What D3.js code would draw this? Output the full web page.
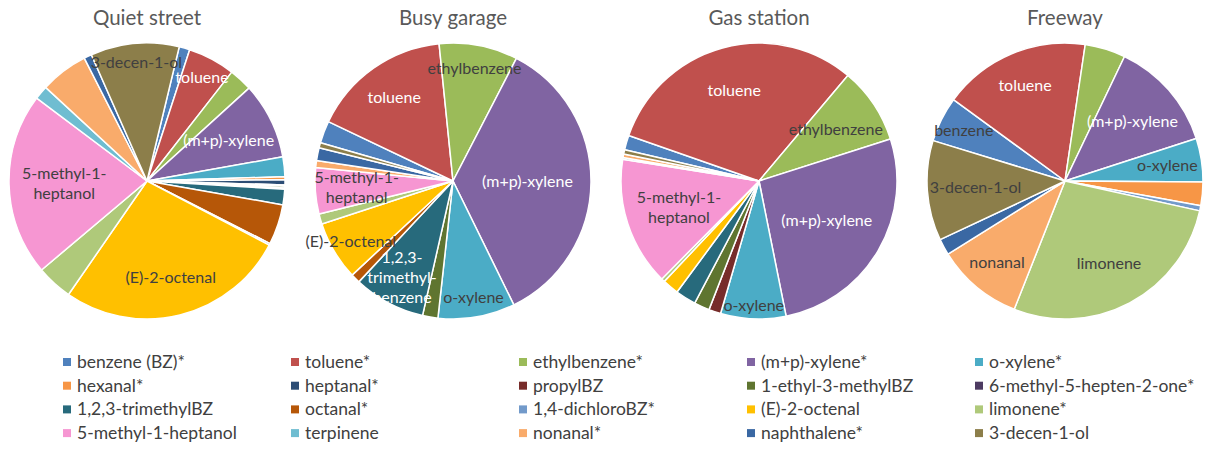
<!DOCTYPE html>
<html>
<head>
<meta charset="utf-8">
<script src="https://cdnjs.cloudflare.com/ajax/libs/d3/7.8.5/d3.min.js"></script>
<style>
  body { margin: 0; background: #fff; }
  svg text { font-family: Lato, "Open Sans", sans-serif; }
</style>
</head>
<body>
<div id="chart"></div>
<script>
//compounds in the same order as the excel series (pies go clockwise in this order)
var compounds = ["benzene", "toluene", "ethylbenzene", "(m+p)-xylene", "o-xylene",
  "hexanal", "heptanal", "propylBZ", "1-ethyl-3-methylBZ", "6-methyl-5-hepten-2-one",
  "1,2,3-trimethylBZ", "octanal", "1,4-dichloroBZ", "(E)-2-octenal", "limonene",
  "5-methyl-1-heptanol", "terpinene", "nonanal", "naphthalene", "3-decen-1-ol"];

//what the legend says for each one
var legendNames = ["benzene (BZ)*", "toluene*", "ethylbenzene*", "(m+p)-xylene*", "o-xylene*",
  "hexanal*", "heptanal*", "propylBZ", "1-ethyl-3-methylBZ", "6-methyl-5-hepten-2-one*",
  "1,2,3-trimethylBZ", "octanal*", "1,4-dichloroBZ*", "(E)-2-octenal", "limonene*",
  "5-methyl-1-heptanol", "terpinene", "nonanal*", "naphthalene*", "3-decen-1-ol"];

var sites = ["Quiet street", "Busy garage", "Gas station", "Freeway"];

//share of every compound at each site (%)
var quietStreet = [1.25, 5.5, 2.7, 8.9, 2.3, 0.35, 0.6, 0.15, 0.2, 0.15,
  1.8, 4.7, 0.2, 26.8, 4.2, 21.3, 1.6, 5.6, 0.9, 10.3];
var busyGarage = [2.6, 16.3, 9.2, 35.1, 9.0, 0, 0, 0, 1.8, 0,
  8.4, 1.1, 0, 6.9, 1.2, 5.4, 0, 0.8, 1.5, 0.6];
var gasStation = [1.7, 30.6, 8.9, 26.6, 7.6, 0, 0, 1.4, 1.8, 0,
  2.4, 0, 0, 1.9, 0.4, 15.0, 0.2, 0.4, 0, 0.5];
var freeway = [5.3, 17.3, 4.75, 12.9, 5.1, 2.75, 0, 0, 0, 0,
  0, 0, 0.6, 0, 27.5, 0, 0, 10.1, 1.9, 11.7];

var siteValues = [quietStreet, busyGarage, gasStation, freeway];

//the text written inside the slices
var sliceLabels = {
  "benzene": ["benzene"],
  "toluene": ["toluene"],
  "ethylbenzene": ["ethylbenzene"],
  "(m+p)-xylene": ["(m+p)-xylene"],
  "o-xylene": ["o-xylene"],
  "1,2,3-trimethylBZ": ["1,2,3-", "trimethyl-", "benzene"],
  "(E)-2-octenal": ["(E)-2-octenal"],
  "limonene": ["limonene"],
  "5-methyl-1-heptanol": ["5-methyl-1-", "heptanol"],
  "nonanal": ["nonanal"],
  "3-decen-1-ol": ["3-decen-1-ol"]
};

//excel colours for the 20 series
var colors = ["#4F81BD", "#C0504D", "#9BBB59", "#8064A2", "#4BACC6",
  "#F79646", "#2C4D75", "#772C2A", "#5F7530", "#4D3B62",
  "#276A7C", "#B65708", "#729ACA", "#FFC000", "#AFC97A",
  "#F696D2", "#6FBDD1", "#F9AB6B", "#3A68A3", "#8C7E4A"];

//--- chart settings (not data) ---
//angle of first slice per pie (deg), like the excel option
var firstSliceAngle = [13.5, 286.1, 283.1, 287];
//which slices get a label and how far out (fraction of radius), excel "best fit"-ish
var labelSpots = [
  {"toluene": 0.85, "(m+p)-xylene": 0.66, "(E)-2-octenal": 0.72, "5-methyl-1-heptanol": 0.6, "3-decen-1-ol": 0.86},
  {"toluene": 0.74, "ethylbenzene": 0.83, "(m+p)-xylene": 0.54, "o-xylene": 0.86, "1,2,3-trimethylBZ": 0.79, "(E)-2-octenal": 0.86, "5-methyl-1-heptanol": 0.7},
  {"toluene": 0.68, "ethylbenzene": 0.67, "(m+p)-xylene": 0.57, "o-xylene": 0.9, "5-methyl-1-heptanol": 0.61},
  {"benzene": 0.82, "toluene": 0.75, "(m+p)-xylene": 0.65, "o-xylene": 0.75, "limonene": 0.68, "nonanal": 0.77, "3-decen-1-ol": 0.65}
];
var whiteText = ["toluene", "(m+p)-xylene", "1,2,3-trimethylBZ"];

var width = 1208, height = 449;
var radius = 138, pieY = 181;

var svg = d3.select("#chart").append("svg")
  .attr("width", width)
  .attr("height", height);

var color = d3.scaleOrdinal().domain(compounds).range(colors);

//one band per site, pie sits in the middle of it
var x = d3.scaleBand().domain(sites).range([-6, 1218]);

var arc = d3.arc().innerRadius(0).outerRadius(radius);

sites.forEach(function(site, s) {
  var start = firstSliceAngle[s] * Math.PI / 180;
  var pie = d3.pie()
    .sort(null)
    .value(function(d) { return d.value; })
    .startAngle(start)
    .endAngle(start + 2 * Math.PI);

  var rows = compounds.map(function(c, i) { return { name: c, value: siteValues[s][i] }; });
  var arcs = pie(rows);

  var g = svg.append("g")
    .attr("transform", "translate(" + (x(site) + x.bandwidth() / 2) + "," + pieY + ")");

  g.selectAll("path")
    .data(arcs.filter(function(d) { return d.value > 0; }))
    .enter().append("path")
    .attr("d", arc)
    .attr("fill", function(d) { return color(d.data.name); })
    .attr("stroke", "#fff")
    .attr("stroke-width", 1.5)
    .attr("stroke-linejoin", "round");

  //title above the pie
  svg.append("text")
    .attr("x", x(site) + x.bandwidth() / 2)
    .attr("y", 25)
    .attr("text-anchor", "middle")
    .attr("font-size", 20.5)
    .attr("fill", "#595959")
    .text(site);

  //slice labels
  var spots = labelSpots[s];
  arcs.filter(function(d) { return spots[d.data.name] !== undefined; }).forEach(function(d) {
    var r = spots[d.data.name] * radius;
    var pos = d3.arc().innerRadius(r).outerRadius(r).centroid(d);
    var lines = sliceLabels[d.data.name];
    var t = g.append("text")
      .attr("text-anchor", "middle")
      .attr("font-size", 16)
      .attr("fill", whiteText.indexOf(d.data.name) >= 0 ? "#fff" : "#404040");
    lines.forEach(function(line, k) {
      t.append("tspan")
        .attr("x", pos[0])
        .attr("y", pos[1] + (k - (lines.length - 1) / 2) * 20 + 5.5)
        .text(line);
    });
  });
});

//legend, 5 columns x 4 rows, row by row
var legendCol = d3.scaleLinear().domain([0, 1]).range([63, 291]);
var legendRow = d3.scaleLinear().domain([0, 1]).range([362, 385.7]);

var item = svg.selectAll(".legend")
  .data(compounds)
  .enter().append("g")
  .attr("class", "legend")
  .attr("transform", function(d, i) {
    return "translate(" + legendCol(i % 5) + "," + legendRow(Math.floor(i / 5)) + ")";
  });

item.append("rect")
  .attr("x", 0)
  .attr("y", -4)
  .attr("width", 8)
  .attr("height", 8)
  .attr("fill", function(d) { return color(d); });

item.append("text")
  .attr("x", 14)
  .attr("y", 6)
  .attr("font-size", 17.5)
  .attr("fill", "#404040")
  .text(function(d, i) { return legendNames[i]; });
</script>
</body>
</html>
